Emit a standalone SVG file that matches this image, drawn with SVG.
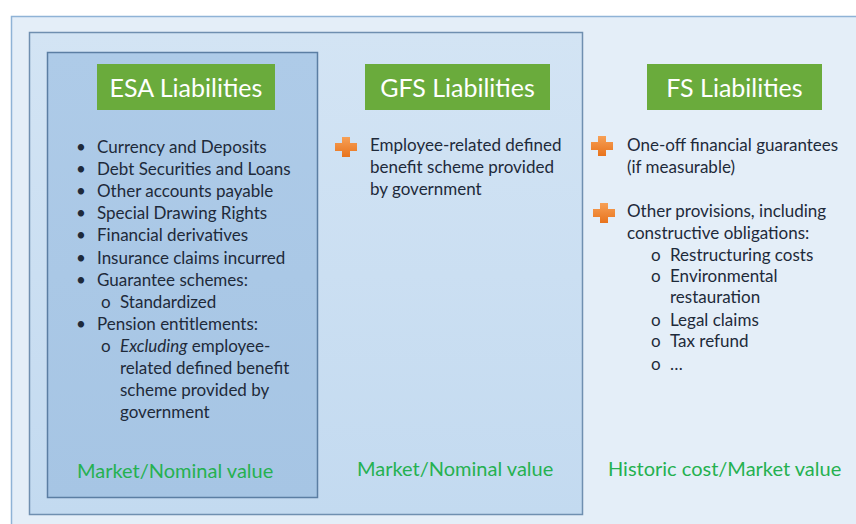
<svg xmlns="http://www.w3.org/2000/svg" width="856" height="524" viewBox="0 0 856 524">
<defs>
<linearGradient id="gMid" x1="0" y1="0" x2="0" y2="1">
<stop offset="0" stop-color="#d3e4f4"/>
<stop offset="1" stop-color="#c3daf0"/>
</linearGradient>
<linearGradient id="gEsa" x1="0" y1="0" x2="0" y2="1">
<stop offset="0" stop-color="#aecbe8"/>
<stop offset="1" stop-color="#a6c5e4"/>
</linearGradient>
<linearGradient id="gPlus" x1="0" y1="0" x2="0" y2="1">
<stop offset="0" stop-color="#f7a056"/>
<stop offset="1" stop-color="#e8731c"/>
</linearGradient>
<path id="plus" d="M7,0 H15 V6 H22 V14 H15 V20 H7 V14 H0 V6 H7 Z"/>
</defs>
<style>
.body{font-family:Lato,"Open Sans","Liberation Sans",sans-serif;font-size:17px;fill:#1e2a3a}
.hdr{font-family:Lato,"Open Sans","Liberation Sans",sans-serif;font-size:25px;fill:#ffffff;text-anchor:middle}
.val{font-family:Lato,"Open Sans","Liberation Sans",sans-serif;font-size:20px;fill:#25b150}
.hbox{fill:#6aab3c}
.plus{fill:url(#gPlus)}
</style>
<rect x="0" y="0" width="856" height="524" fill="#ffffff"/>
<g id="outer">
<rect x="11.5" y="16.5" width="850" height="515" fill="#e4eef8" stroke="#8fb3d6" stroke-width="1.5"/>
</g>
<g id="gfs-box">
<rect x="29.5" y="32.5" width="553" height="482" fill="url(#gMid)" stroke="#6f8fb0" stroke-width="1.5"/>
</g>
<g id="esa-box">
<rect x="47.5" y="52.5" width="270" height="445" fill="url(#gEsa)" stroke="#5b7ea3" stroke-width="1.5"/>
</g>
<g id="esa">
<rect class="hbox" x="97" y="64" width="178" height="46"/>
<text class="hdr" x="186" y="97">ESA Liabilities</text>
<g class="body">
<text x="76" y="153">•</text><text x="97" y="153">Currency and Deposits</text>
<text x="76" y="175">•</text><text x="97" y="175">Debt Securities and Loans</text>
<text x="76" y="197">•</text><text x="97" y="197">Other accounts payable</text>
<text x="76" y="219">•</text><text x="97" y="219">Special Drawing Rights</text>
<text x="76" y="241">•</text><text x="97" y="241">Financial derivatives</text>
<text x="76" y="264">•</text><text x="97" y="264">Insurance claims incurred</text>
<text x="76" y="286">•</text><text x="97" y="286">Guarantee schemes:</text>
<text x="101" y="308">o</text><text x="120" y="308">Standardized</text>
<text x="76" y="330">•</text><text x="97" y="330">Pension entitlements:</text>
<text x="101" y="352">o</text><text x="120" y="352"><tspan font-style="italic">Excluding</tspan> employee-</text>
<text x="120" y="374">related defined benefit</text>
<text x="120" y="396">scheme provided by</text>
<text x="120" y="418">government</text>
</g>
<text class="val" x="77" y="478">Market/Nominal value</text>
</g>
<g id="gfs">
<rect class="hbox" x="365" y="64" width="185" height="46"/>
<text class="hdr" x="457.5" y="97">GFS Liabilities</text>
<use href="#plus" class="plus" x="335" y="137"/>
<g class="body">
<text x="370" y="151">Employee-related defined</text>
<text x="370" y="173">benefit scheme provided</text>
<text x="370" y="195">by government</text>
</g>
<text class="val" x="357" y="476">Market/Nominal value</text>
</g>
<g id="fs">
<rect class="hbox" x="647" y="64" width="175" height="46"/>
<text class="hdr" x="734.5" y="97">FS Liabilities</text>
<use href="#plus" class="plus" x="591" y="136"/>
<use href="#plus" class="plus" x="593" y="203"/>
<g class="body">
<text x="627" y="151">One-off financial guarantees</text>
<text x="627" y="173">(if measurable)</text>
<text x="627" y="217">Other provisions, including</text>
<text x="627" y="239">constructive obligations:</text>
<text x="651" y="261">o</text><text x="670" y="261">Restructuring costs</text>
<text x="651" y="282">o</text><text x="670" y="282">Environmental</text>
<text x="670" y="303">restauration</text>
<text x="651" y="326">o</text><text x="670" y="326">Legal claims</text>
<text x="651" y="347">o</text><text x="670" y="347">Tax refund</text>
<text x="651" y="370">o</text><text x="670" y="370">…</text>
</g>
<text class="val" x="608" y="476">Historic cost/Market value</text>
</g>
<g id="connectors"/>
</svg>
